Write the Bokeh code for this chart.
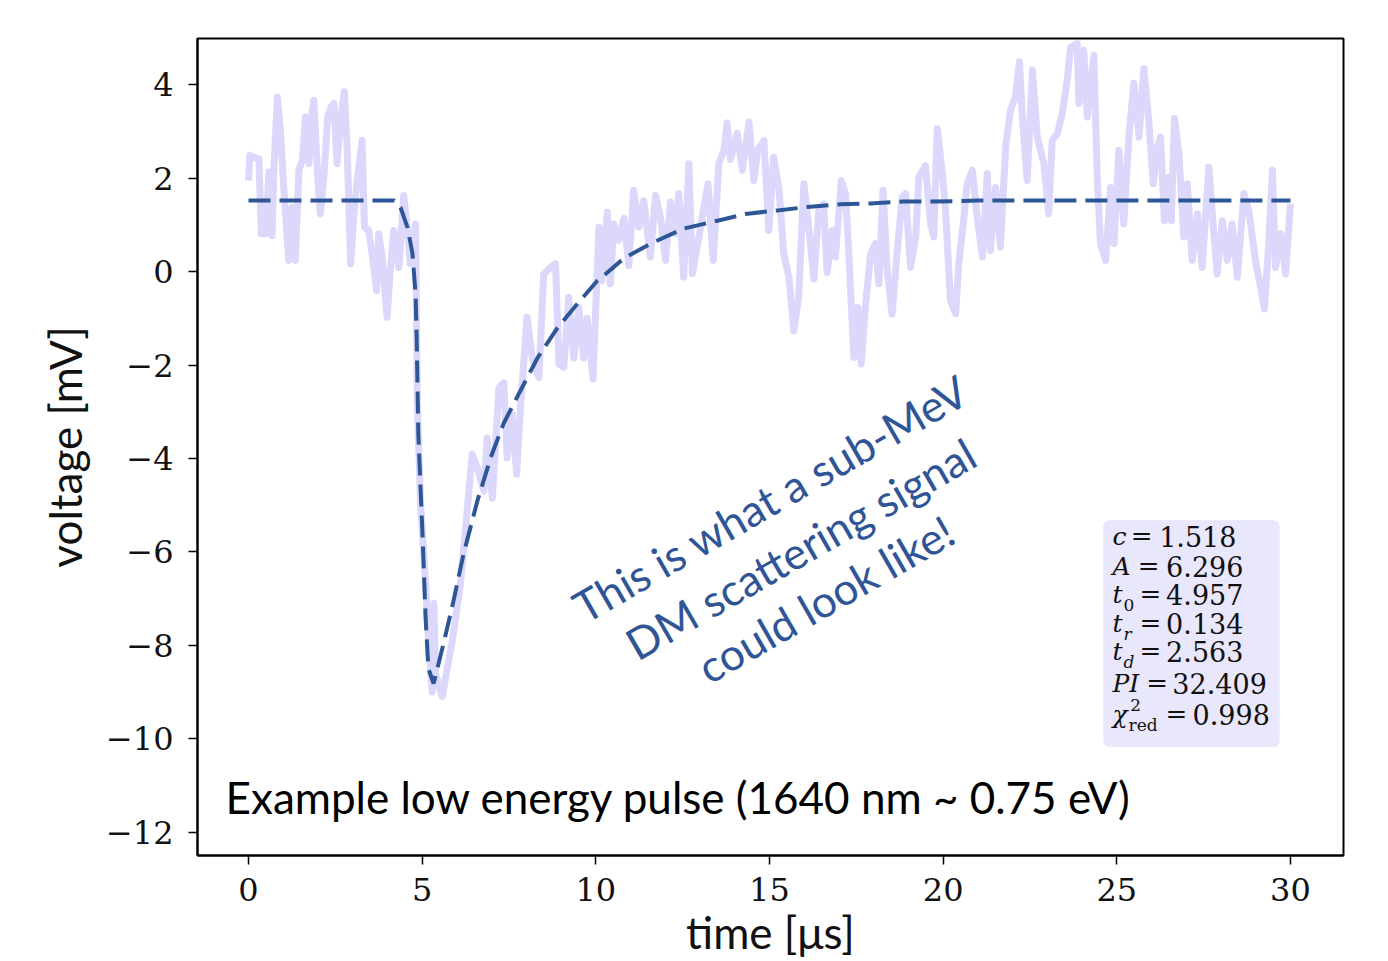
from bokeh.plotting import figure
from bokeh.models import Range1d, FixedTicker, CustomJSTickFormatter, Label, BoxAnnotation
from bokeh.embed import file_html
from bokeh.resources import INLINE

# ---------------- data ----------------
t_signal = [
    0.00, 0.04, 0.15, 0.30, 0.37, 0.49, 0.59, 0.68, 0.73, 0.83,
    0.92, 1.02, 1.16, 1.26, 1.35, 1.45, 1.55, 1.64, 1.74, 1.80,
    1.88, 2.00, 2.07, 2.17, 2.28, 2.38, 2.46, 2.55, 2.65, 2.76,
    2.84, 2.94, 3.03, 3.13, 3.27, 3.34, 3.46, 3.56, 3.69, 3.75,
    3.85, 3.99, 4.09, 4.18, 4.33, 4.47, 4.57, 4.66, 4.81, 4.86,
    4.95, 5.10, 5.19, 5.29, 5.34, 5.38, 5.58, 5.72, 5.87, 6.10,
    6.25, 6.44, 6.59, 6.78, 6.87, 7.02, 7.21, 7.35, 7.45, 7.59,
    7.72, 7.83, 8.02, 8.17, 8.36, 8.50, 8.70, 8.84, 8.94, 9.08,
    9.22, 9.37, 9.51, 9.65, 9.75, 9.92, 10.09, 10.18, 10.33, 10.42,
    10.52, 10.66, 10.81, 10.95, 11.09, 11.24, 11.38, 11.57, 11.72, 11.86,
    12.01, 12.15, 12.29, 12.39, 12.53, 12.68, 12.78, 12.97, 13.11, 13.23,
    13.38, 13.54, 13.69, 13.78, 13.88, 14.07, 14.22, 14.41, 14.55, 14.66,
    14.84, 14.98, 15.12, 15.27, 15.41, 15.56, 15.70, 15.84, 15.99, 16.13,
    16.28, 16.42, 16.56, 16.66, 16.81, 16.90, 17.07, 17.19, 17.28, 17.43,
    17.54, 17.64, 17.77, 17.91, 18.05, 18.15, 18.27, 18.39, 18.53, 18.68,
    18.82, 18.92, 19.06, 19.21, 19.30, 19.49, 19.64, 19.73, 19.83, 19.97,
    20.07, 20.21, 20.36, 20.45, 20.60, 20.69, 20.84, 20.98, 21.13, 21.27,
    21.36, 21.51, 21.65, 21.80, 21.94, 22.08, 22.20, 22.28, 22.42, 22.57,
    22.71, 22.90, 23.04, 23.14, 23.29, 23.43, 23.57, 23.67, 23.86, 23.91,
    24.05, 24.15, 24.34, 24.44, 24.53, 24.68, 24.82, 24.92, 25.06, 25.20,
    25.35, 25.49, 25.64, 25.78, 25.92, 26.05, 26.17, 26.26, 26.37, 26.50,
    26.57, 26.66, 26.79, 26.93, 27.03, 27.17, 27.32, 27.46, 27.65, 27.78,
    27.89, 28.04, 28.18, 28.32, 28.47, 28.66, 28.80, 28.99, 29.14, 29.25,
    29.38, 29.48, 29.57, 29.72, 29.86, 30.00,
]
v_signal = [
    1.95, 2.49, 2.45, 2.42, 0.81, 0.81, 2.13, 0.77, 2.17, 3.74,
    3.03, 1.74, 0.24, 1.38, 0.24, 2.17, 2.38, 3.31, 2.31, 3.24,
    3.67, 1.95, 1.24, 2.02, 3.31, 3.53, 3.60, 2.31, 3.24, 3.85,
    2.67, 0.17, 1.17, 1.95, 2.81, 0.95, 0.88, 0.38, -0.41, 0.81,
    0.31, -0.98, 0.09, 0.88, 0.09, 1.63, 0.95, 0.17, 1.02, -2.77,
    -4.91, -6.70, -8.00, -9.00, -7.10, -8.60, -9.10, -8.50, -7.90, -6.70,
    -5.49, -3.91, -4.20, -4.70, -3.56, -4.85, -2.49, -2.38, -3.99, -3.05,
    -4.34, -2.92, -0.98, -1.85, -2.27, -0.05, 0.09, 0.17, -1.98, -2.05,
    -0.55, -1.85, -0.77, -1.85, -1.00, -2.30, 0.95, -0.19, 1.27, -0.26,
    1.02, 0.67, 1.14, 0.13, 1.74, 0.95, 1.52, 0.31, 1.63, 1.17,
    0.24, 1.49, 0.81, 1.67, -0.12, 2.31, -0.05, 0.74, 1.38, 1.88,
    0.24, 2.31, 2.60, 3.18, 2.40, 2.96, 2.17, 3.20, 1.95, 2.60,
    2.81, 0.88, 2.45, 1.80, 0.38, -0.12, -1.27, -0.55, 1.88, 0.95,
    -0.16, 1.31, 1.45, -0.02, 0.88, 0.31, 1.95, 1.67, 0.45, -1.84,
    -0.77, -1.98, -0.69, 0.38, 0.60, -0.26, 1.74, 0.02, -0.91, 0.45,
    1.59, 1.67, 0.09, 0.74, 2.02, 2.27, 1.02, 0.74, 3.06, 2.17,
    1.31, -0.62, -0.91, 0.17, 1.17, 1.88, 2.17, 1.17, 0.31, 2.10,
    0.45, 1.80, 0.52, 2.67, 3.46, 3.74, 4.49, 3.31, 1.95, 4.31,
    2.88, 2.31, 1.24, 2.81, 2.96, 3.38, 4.09, 4.80, 4.88, 3.60,
    4.74, 3.31, 4.63, 1.95, 0.60, 0.24, 1.80, 0.60, 2.60, 1.02,
    2.90, 4.03, 2.88, 4.35, 3.24, 1.88, 2.67, 2.88, 1.09, 2.02,
    1.09, 3.28, 2.52, 0.74, 1.88, 0.24, 1.24, 0.09, 2.24, 0.95,
    -0.05, 1.09, 0.24, 1.02, -0.12, 1.67, 1.31, 0.24, -0.33, -0.80,
    0.67, 2.17, 0.09, 0.81, -0.05, 1.45,
]

t_fit = [0.0, 4.20, 4.38, 4.58, 4.72, 4.81, 4.84, 4.89, 5.01, 5.10, 5.18, 5.33,
         5.61, 5.90, 6.19, 6.59, 6.97, 7.34, 7.83, 8.32, 8.90, 9.47, 10.05,
         10.22, 10.80, 11.58, 12.53, 13.50, 14.37, 15.23, 16.18, 17.05, 17.91,
         18.86, 19.72, 21.0, 30.0]
v_fit = [1.52, 1.52, 1.37, 0.94, 0.39, -0.47, -1.33, -3.48, -5.62, -7.42, -8.50, -8.82,
         -7.98, -7.06, -6.05, -4.91, -3.99, -3.26, -2.55, -1.85, -1.20, -0.69, -0.19,
         -0.09, 0.28, 0.60, 0.92, 1.09, 1.24, 1.31, 1.39, 1.44, 1.46,
         1.50, 1.50, 1.52, 1.52]

x_ticks = [0, 5, 10, 15, 20, 25, 30]
y_ticks = [-12, -10, -8, -6, -4, -2, 0, 2, 4]

param_names = ["c", "A", "t", "t", "t", "PI", "\u03c7"]
param_subs = ["", "", "0", "r", "d", "", "red"]
param_values = ["1.518", "6.296", "4.957", "0.134", "2.563", "32.409", "0.998"]

x_label = "time [\u03bcs]"
y_label = "voltage [mV]"
example_text = "Example low energy pulse (1640 nm ~ 0.75 eV)"
claim_lines = ["This is what a sub-MeV", "DM scattering signal", "could look like!"]

# ---------------- styles ----------------
TRACE = "#dcd8fb"
FIT = "#2c5696"
TEXT_BLUE = "#2f5597"
SERIF = "DejaVu Serif"
SANS = "Lato"
INK = "#111111"

p = figure(width=1388, height=961,
           x_range=Range1d(-1.468, 31.527), y_range=Range1d(-12.5, 4.99),
           output_backend="svg", toolbar_location=None,
           min_border_left=197, min_border_right=45,
           min_border_top=38, min_border_bottom=106)

p.xgrid.visible = False
p.ygrid.visible = False
p.outline_line_color = "black"
p.outline_line_width = 2
p.background_fill_color = "white"
p.border_fill_color = "white"

for ax in (p.xaxis[0], p.yaxis[0]):
    ax.axis_line_width = 2
    ax.axis_line_color = "black"
    ax.major_tick_in = 0
    ax.major_tick_out = 9
    ax.major_tick_line_width = 1.5
    ax.minor_tick_line_color = None
    ax.major_label_text_font = SERIF
    ax.major_label_text_font_size = "32px"
    ax.major_label_text_color = INK
    ax.axis_label_text_font = SANS
    ax.axis_label_text_font_style = "normal"
    ax.axis_label_text_color = INK

p.xaxis.ticker = FixedTicker(ticks=x_ticks)
p.yaxis.ticker = FixedTicker(ticks=y_ticks)
minus_fmt = CustomJSTickFormatter(code="return tick < 0 ? '\\u2212' + Math.abs(tick) : String(tick);")
p.yaxis.formatter = minus_fmt
p.xaxis.formatter = minus_fmt
p.xaxis.major_label_standoff = 13
p.yaxis.major_label_standoff = 15

p.yaxis.axis_label = y_label
p.yaxis.axis_label_text_font_size = "44px"
p.yaxis.axis_label_standoff = 12

p.xaxis.axis_label = x_label
p.xaxis.axis_label_text_font_size = "44px"
p.xaxis.axis_label_standoff = 2

# signal trace and fit
p.line(t_signal, v_signal, line_color=TRACE, line_width=7, line_join="round")
p.line(t_fit, v_fit, line_color=FIT, line_width=4, line_dash="22 9")

# fit-parameter box
p.add_layout(BoxAnnotation(left=24.62, right=29.68, top=-5.33, bottom=-10.17,
                           fill_color="#e9e7fb", fill_alpha=1.0,
                           line_color="#dddaf7", line_width=1, border_radius=6,
                           level="annotation"))

line_y = [-5.666, -6.308, -6.908, -7.529, -8.128, -8.814, -9.478]
eq_x = [25.40, 25.60, 25.65, 25.65, 25.65, 25.85, 26.40]
val_x = [26.22, 26.42, 26.42, 26.42, 26.42, 26.60, 27.18]
sub_y = {"0": -7.129, "r": -7.750, "d": -8.350}
x0 = 24.876
for i in range(len(param_names)):
    p.add_layout(Label(x=x0, y=line_y[i], text=param_names[i], text_font=SERIF,
                       text_font_style="italic", text_font_size="25px",
                       text_baseline="alphabetic", text_color=INK))
    s = param_subs[i]
    if s == "red":
        p.add_layout(Label(x=25.34, y=-9.70, text="red", text_font=SERIF,
                           text_font_size="17px", text_baseline="alphabetic", text_color=INK))
        p.add_layout(Label(x=25.39, y=-9.27, text="2", text_font=SERIF,
                           text_font_size="17px", text_baseline="alphabetic", text_color=INK))
    elif s:
        p.add_layout(Label(x=25.19, y=sub_y[s], text=s, text_font=SERIF, text_font_size="17px",
                           text_font_style="normal" if s == "0" else "italic",
                           text_baseline="alphabetic", text_color=INK))
    p.add_layout(Label(x=eq_x[i], y=line_y[i], text="=", text_font=SERIF,
                       text_font_size="26px", text_baseline="alphabetic", text_color=INK))
    p.add_layout(Label(x=val_x[i], y=line_y[i], text=param_values[i], text_font=SERIF,
                       text_font_size="27px", text_baseline="alphabetic", text_color=INK))

# overlay texts
p.add_layout(Label(x=-0.66, y=-11.25, text=example_text, text_font=SANS,
                   text_font_size="44px", text_baseline="alphabetic", text_color="black"))

claim_x = [15.03, 15.89, 16.61]
claim_y = [-4.85, -5.93, -7.00]
for i, line in enumerate(claim_lines):
    p.add_layout(Label(x=claim_x[i], y=claim_y[i], text=line, text_font=SANS,
                       text_font_size="44px", text_align="center", text_baseline="middle",
                       angle=30, angle_units="deg", text_color=TEXT_BLUE))

open("out.html", "w").write(file_html(p, INLINE))
